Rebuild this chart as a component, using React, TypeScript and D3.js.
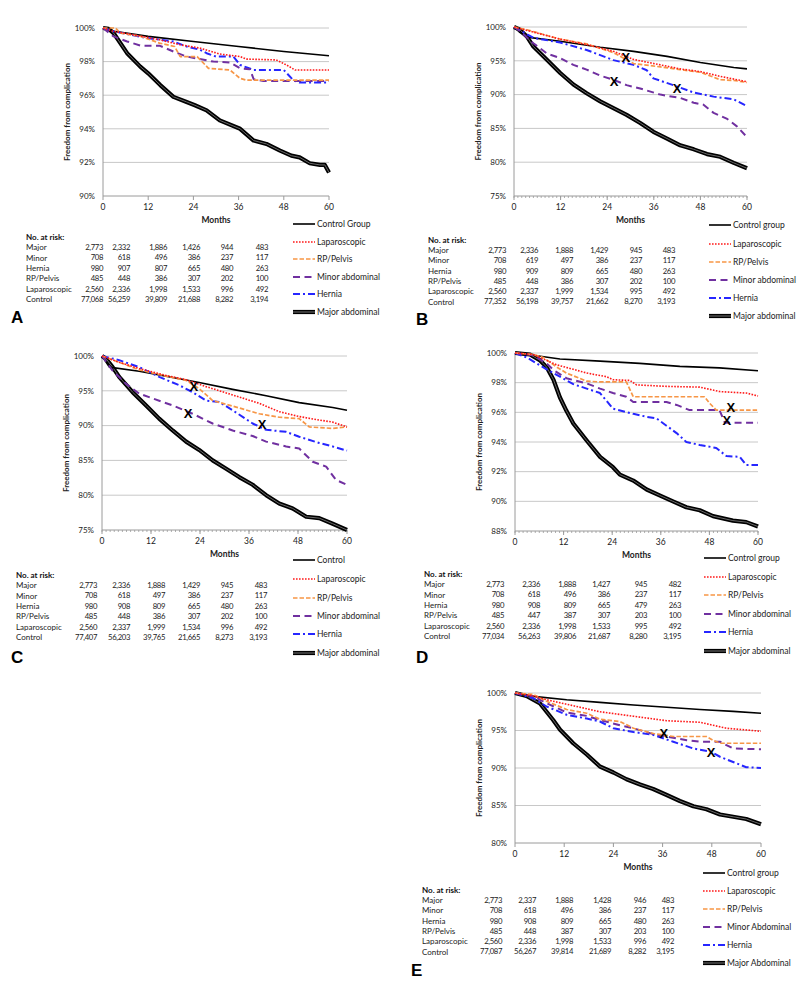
import React from "react";
import * as d3 from "d3";

// ---------- DATA ----------
const monthTicks = [0, 12, 24, 36, 48, 60];
const rowLabels = ["Major", "Minor", "Hernia", "RP/Pelvis", "Laparoscopic", "Control"];

// Panel A
const A_yTicks = [90, 92, 94, 96, 98, 100];
const A_control = [[0,100],[3,99.8],[12,99.5],[24,99.2],[36,98.9],[48,98.6],[60,98.35]];
const A_major = [[0,100],[1.5,99.95],[2.8,99.7],[6.4,98.5],[9.9,97.7],[12,97.3],[15.2,96.6],[18.7,95.9],[22.2,95.6],[24.4,95.4],[27.5,95.1],[31,94.5],[36.4,94.0],[40,93.3],[43.4,93.1],[47,92.7],[50,92.4],[52.2,92.3],[54.9,91.95],[57.6,91.85],[58.9,91.85],[60,91.4]];
const A_lap = [[0,100],[2.8,99.8],[8,99.6],[15,99.3],[20.5,99.0],[25.8,98.8],[31,98.45],[36.4,98.3],[38,98.15],[46,98.1],[48.7,97.8],[51,97.5],[60,97.5]];
const A_rp = [[0,100],[3.3,100],[4.6,99.7],[10,99.5],[15,99.1],[19,98.9],[20.5,98.3],[25,98.3],[28,97.6],[33.7,97.5],[36.4,97.0],[38,96.9],[60,96.9]];
const A_minor = [[0,100],[2.8,99.5],[6.4,99.2],[10,98.95],[15,98.95],[18.7,98.6],[22.2,98.3],[29.3,98.0],[33.7,97.95],[36.4,97.6],[39,97.55],[40,96.95],[42.6,96.85],[60,96.85]];
const A_hernia = [[0,100],[2.8,99.8],[11.6,99.4],[18.7,99.2],[22.2,98.9],[25.8,98.7],[27.5,98.5],[30,98.3],[34.6,98.3],[36.4,97.8],[40,97.5],[48,97.5],[50.5,96.9],[52.2,96.75],[60,96.75]];
const A_marks: number[][] = [];
const A_major_risk = ["2,773", "2,332", "1,886", "1,426", "944", "483"];
const A_minor_risk = ["708", "618", "496", "386", "237", "117"];
const A_hernia_risk = ["980", "907", "807", "665", "480", "263"];
const A_rp_risk = ["485", "448", "386", "307", "202", "100"];
const A_lap_risk = ["2,560", "2,336", "1,998", "1,533", "996", "492"];
const A_control_risk = ["77,068", "56,259", "39,809", "21,688", "8,282", "3,194"];
const A_legend = ["Control Group", "Laparoscopic", "RP/Pelvis", "Minor abdominal", "Hernia", "Major abdominal"];

// Panel B
const B_yTicks = [75, 80, 85, 90, 95, 100];
const B_control = [[0,100],[1.5,99.2],[3.3,98.5],[11.9,97.9],[22.2,97.0],[30.8,96.4],[39.4,95.65],[48,94.75],[56.6,94.0],[60,93.8]];
const B_major = [[0,100],[1.5,99.6],[3.3,98.6],[5,97.1],[8.4,95.2],[11.9,93.2],[15.3,91.5],[18.7,90.2],[22.2,89.0],[25.6,88.0],[29,87.0],[32.5,85.8],[35.9,84.5],[39.4,83.5],[42.8,82.5],[46.3,81.9],[49.7,81.2],[53.1,80.8],[56.6,79.9],[60,79.1]];
const B_lap = [[0,100],[3.3,99.5],[11.9,98.2],[18.7,97.4],[25.6,96.4],[30.8,95.2],[37.7,94.4],[42.8,93.8],[48,93.4],[53.1,92.7],[60,91.9]];
const B_rp = [[0,100],[3.3,99.6],[11.9,98.2],[18.7,97.5],[25.6,96.2],[30.8,94.6],[37.7,94.1],[42.8,93.7],[48,93.3],[53.1,92.2],[56.6,92.1],[60,91.8]];
const B_minor = [[0,100],[1.5,99.4],[5,97.6],[8.4,96.1],[11.9,95.4],[15.3,94.4],[18.7,93.7],[22.2,92.8],[25.6,92.2],[29,91.4],[32.5,90.9],[37.7,90.0],[42.8,89.5],[46.3,88.8],[48.8,88.5],[51.4,87.3],[54.9,86.4],[57.4,85.3],[60,83.7]];
const B_hernia = [[0,100],[1.5,99.5],[5,98.4],[11.9,97.7],[18.7,96.6],[25.6,95.1],[30.8,94.4],[34.2,93.6],[35.9,92.4],[41,91.4],[46.3,90.3],[51.4,89.7],[56.6,89.3],[60,88.3]];
const B_marks = [[28.8,95.5],[25.8,92.0],[42,91.0]];
const B_major_risk = ["2,773", "2,336", "1,888", "1,429", "945", "483"];
const B_minor_risk = ["708", "619", "497", "386", "237", "117"];
const B_hernia_risk = ["980", "909", "809", "665", "480", "263"];
const B_rp_risk = ["485", "448", "386", "307", "202", "100"];
const B_lap_risk = ["2,560", "2,337", "1,999", "1,534", "995", "492"];
const B_control_risk = ["77,352", "56,198", "39,757", "21,662", "8,270", "3,193"];
const B_legend = ["Control group", "Laparoscopic", "RP/Pelvis", "Minor abdominal", "Hernia", "Major abdominal"];

// Panel C
const C_yTicks = [75, 80, 85, 90, 95, 100];
const C_control = [[0,100],[1.8,98.4],[9.1,97.8],[15.7,97.1],[23.8,96.2],[32,95.2],[40.2,94.3],[48.3,93.3],[56.5,92.6],[60,92.2]];
const C_major = [[0,100],[1,99.6],[2.6,98.4],[4.2,97.0],[7.5,94.8],[10.8,92.9],[14,91.0],[17.3,89.3],[20.6,87.7],[23.8,86.5],[27.1,85.0],[30.4,83.8],[33.6,82.6],[36.9,81.5],[40.2,80.0],[43.4,78.8],[46.7,78.1],[50,76.9],[53.2,76.7],[56.5,75.9],[60,75.0]];
const C_lap = [[0,100],[4.2,99.1],[9.1,98.2],[15.7,97.2],[20.6,96.6],[25.5,95.6],[32,94.4],[38.5,93.2],[43.4,92.0],[48.3,91.3],[53.2,90.8],[56.5,90.5],[60,89.8]];
const C_rp = [[0,100],[4.2,99.1],[9.1,98.0],[15.7,97.1],[20.6,96.5],[23.8,95.3],[27.1,93.6],[32,92.8],[38.5,91.7],[43.4,91.2],[48.3,91.0],[50.8,89.8],[56.5,89.6],[60,89.8]];
const C_minor = [[0,100],[2.6,97.9],[5.9,96.0],[9.1,94.6],[12.4,93.9],[17.3,92.9],[22.2,91.7],[27.1,90.3],[32,89.3],[36.9,88.5],[40.2,87.7],[45.1,87.0],[48.3,86.7],[51.6,84.8],[54.9,84.1],[57.3,82.2],[60,81.5]];
const C_hernia = [[0,100],[4.2,99.4],[9.1,98.4],[14,97.0],[18.9,95.8],[22.2,94.8],[25.5,93.6],[28.7,93.4],[32,92.2],[36.9,90.3],[40.2,89.4],[45.1,89.1],[48.3,88.4],[53.2,87.5],[56.5,87.0],[60,86.4]];
const C_marks = [[22.5,95.7],[21.1,91.8],[39.2,90.2]];
const C_major_risk = ["2,773", "2,336", "1,888", "1,429", "945", "483"];
const C_minor_risk = ["708", "618", "497", "386", "237", "117"];
const C_hernia_risk = ["980", "908", "809", "665", "480", "263"];
const C_rp_risk = ["485", "448", "386", "307", "202", "100"];
const C_lap_risk = ["2,560", "2,337", "1,999", "1,534", "996", "492"];
const C_control_risk = ["77,407", "56,203", "39,765", "21,665", "8,273", "3,193"];
const C_legend = ["Control", "Laparoscopic", "RP/Pelvis", "Minor abdominal", "Hernia", "Major abdominal"];

// Panel D
const D_yTicks = [88, 90, 92, 94, 96, 98, 100];
const D_control = [[0,100],[4.5,99.85],[11.1,99.6],[21,99.45],[30.8,99.3],[40.7,99.1],[50.5,99.0],[60,98.8]];
const D_major = [[0,100],[3.7,99.9],[6.2,99.5],[7.8,99.05],[9.5,98.2],[11.1,97.0],[12.7,96.1],[14.4,95.25],[17.7,94.1],[21,93.0],[24.2,92.3],[25.9,91.8],[29.2,91.4],[32.5,90.8],[35.7,90.4],[39,90.0],[42.3,89.6],[45.6,89.4],[48.9,89.0],[53.8,88.7],[57.1,88.6],[60,88.3]];
const D_lap = [[0,100],[4.5,99.9],[7.8,99.5],[10.3,99.2],[14.4,98.9],[17.7,98.65],[22.6,98.4],[24.2,98.2],[28.4,98.15],[30,97.85],[37.4,97.75],[45.6,97.7],[48.9,97.5],[50.5,97.4],[57.1,97.3],[60,97.1]];
const D_rp = [[0,100],[4.5,99.9],[7,99.7],[10.3,99.05],[12.7,98.65],[17.7,98.1],[21,98.05],[27.5,98.05],[29.2,97.05],[46.8,97.05],[48.1,96.6],[49.7,96.15],[60,96.15]];
const D_minor = [[0,100],[4.5,99.85],[7.8,99.3],[9.5,98.85],[12.7,98.3],[17.7,97.95],[21,97.6],[24.2,97.3],[27.5,97.05],[29.2,96.7],[37.4,96.7],[39.9,96.5],[43.1,96.15],[50.5,96.15],[51.8,95.3],[60,95.3]];
const D_hernia = [[0,100],[2.9,99.7],[7.8,98.9],[11.1,98.4],[14.4,97.9],[17.7,97.6],[21,97.3],[24.2,96.25],[29.2,95.9],[32.5,95.7],[34.9,95.6],[37.4,95.1],[39.9,94.6],[42.3,94.0],[45.6,93.8],[49.7,93.6],[52.2,93.05],[55.5,93.0],[57.1,92.45],[60,92.45]];
const D_marks = [[53.3,96.36],[52.3,95.48]];
const D_major_risk = ["2,773", "2,336", "1,888", "1,427", "945", "482"];
const D_minor_risk = ["708", "618", "496", "386", "237", "117"];
const D_hernia_risk = ["980", "908", "809", "665", "479", "263"];
const D_rp_risk = ["485", "447", "387", "307", "203", "100"];
const D_lap_risk = ["2,560", "2,336", "1,998", "1,533", "995", "492"];
const D_control_risk = ["77,034", "56,263", "39,806", "21,687", "8,280", "3,195"];
const D_legend = ["Control group", "Laparoscopic", "RP/Pelvis", "Minor abdominal", "Hernia", "Major abdominal"];

// Panel E
const E_yTicks = [80, 85, 90, 95, 100];
const E_control = [[0,100],[4.5,99.55],[12.6,99.1],[20.7,98.75],[28.9,98.4],[37,98.1],[45.1,97.8],[53.2,97.55],[60,97.3]];
const E_major = [[0,100],[2.8,99.6],[6.1,98.6],[9.3,96.4],[11,95.1],[14.2,93.3],[17.5,91.8],[20.7,90.2],[24,89.4],[27.2,88.5],[30.5,87.8],[33.7,87.2],[37,86.4],[40.2,85.6],[43.5,84.9],[46.7,84.5],[50,83.8],[53.2,83.5],[56.4,83.2],[60,82.5]];
const E_lap = [[0,100],[4.5,99.6],[7.7,99.1],[12.6,98.5],[20.7,97.5],[28.9,96.9],[37,96.3],[45.1,96.1],[48.3,95.7],[51.6,95.3],[60,94.9]];
const E_rp = [[0,100],[4.5,99.8],[7.7,98.9],[12.6,97.8],[17.5,97.3],[20.7,96.5],[25.6,96.2],[28.9,95.3],[33.8,94.6],[38.6,94.2],[46.7,94.2],[48.3,93.7],[50,93.3],[60,93.3]];
const E_minor = [[0,100],[4.5,99.55],[7.7,98.65],[12.6,97.4],[17.5,96.95],[20.7,96.4],[25.6,95.7],[28.9,95.3],[33.8,94.5],[37,94.2],[41.9,93.7],[45.1,93.5],[50,93.5],[53.2,92.6],[60,92.5]];
const E_hernia = [[0,100],[4.5,99.3],[7.7,98.2],[12.6,97.1],[17.5,96.6],[20.7,96.2],[24,95.3],[28.9,94.8],[33.8,94.4],[38.6,93.5],[43.5,92.6],[47.6,92.2],[50,91.5],[53.2,90.8],[56.4,90.1],[60,90.0]];
const E_marks = [[36.3,94.67],[47.8,92.1]];
const E_major_risk = ["2,773", "2,337", "1,888", "1,428", "946", "483"];
const E_minor_risk = ["708", "618", "496", "386", "237", "117"];
const E_hernia_risk = ["980", "908", "809", "665", "480", "263"];
const E_rp_risk = ["485", "448", "387", "307", "203", "100"];
const E_lap_risk = ["2,560", "2,336", "1,998", "1,533", "996", "492"];
const E_control_risk = ["77,087", "56,267", "39,814", "21,689", "8,282", "3,195"];
const E_legend = ["Control group", "Laparoscopic", "RP/Pelvis", "Minor Abdominal", "Hernia", "Major Abdominal"];

// ---------- STYLE / LAYOUT ----------
const FONT = "Lato, 'Open Sans', sans-serif";
const STY: Record<string, any> = {
  control: { stroke: "#000", width: 1.6, dash: null },
  lap: { stroke: "#ff1a1a", width: 1.6, dash: "1.6,1.4" },
  rp: { stroke: "#f79646", width: 1.7, dash: "4.5,2" },
  minor: { stroke: "#7030a0", width: 2, dash: "7,4.5" },
  hernia: { stroke: "#2626ff", width: 2, dash: "7,3,2,3" },
};
const legendKeys = ["control", "lap", "rp", "minor", "hernia", "major"];

const panels = [
  { letter: "A", x0: 103, x1: 329, yTop: 28, yBot: 196, domain: [90, 100], yTicks: A_yTicks, minor: false,
    series: { control: A_control, major: A_major, hernia: A_hernia, minor: A_minor, rp: A_rp, lap: A_lap }, marks: A_marks,
    risk: [A_major_risk, A_minor_risk, A_hernia_risk, A_rp_risk, A_lap_risk, A_control_risk], legend: A_legend,
    legX: 293, legY: [224, 242, 259, 277, 294, 312], tabX: 26, tabY: 237, rowH: 10.4, cols: [103, 130, 167, 200, 233, 268],
    letterX: 11, letterY: 323 },
  { letter: "B", x0: 514, x1: 747, yTop: 27, yBot: 196, domain: [75, 100], yTicks: B_yTicks, minor: true,
    series: { control: B_control, major: B_major, hernia: B_hernia, minor: B_minor, rp: B_rp, lap: B_lap }, marks: B_marks,
    risk: [B_major_risk, B_minor_risk, B_hernia_risk, B_rp_risk, B_lap_risk, B_control_risk], legend: B_legend,
    legX: 709, legY: [225, 244, 262, 280, 298, 316], tabX: 428, tabY: 240, rowH: 10.3, cols: [506, 538, 573, 608, 642, 675],
    letterX: 416, letterY: 325 },
  { letter: "C", x0: 102, x1: 347, yTop: 356, yBot: 530, domain: [75, 100], yTicks: C_yTicks, minor: true,
    series: { control: C_control, major: C_major, hernia: C_hernia, minor: C_minor, rp: C_rp, lap: C_lap }, marks: C_marks,
    risk: [C_major_risk, C_minor_risk, C_hernia_risk, C_rp_risk, C_lap_risk, C_control_risk], legend: C_legend,
    legX: 293, legY: [560, 579, 598, 616, 634, 653], tabX: 16, tabY: 575, rowH: 10.4, cols: [97, 130, 165, 200, 233, 267],
    letterX: 11, letterY: 663 },
  { letter: "D", x0: 515, x1: 758, yTop: 353, yBot: 531, domain: [88, 100], yTicks: D_yTicks, minor: true,
    series: { control: D_control, major: D_major, hernia: D_hernia, minor: D_minor, rp: D_rp, lap: D_lap }, marks: D_marks,
    risk: [D_major_risk, D_minor_risk, D_hernia_risk, D_rp_risk, D_lap_risk, D_control_risk], legend: D_legend,
    legX: 704, legY: [558, 577, 595, 614, 632, 651], tabX: 424, tabY: 574, rowH: 10.4, cols: [504, 540, 576, 610, 647, 681],
    letterX: 416, letterY: 663 },
  { letter: "E", x0: 515, x1: 761, yTop: 693, yBot: 843, domain: [80, 100], yTicks: E_yTicks, minor: false,
    series: { control: E_control, major: E_major, hernia: E_hernia, minor: E_minor, rp: E_rp, lap: E_lap }, marks: E_marks,
    risk: [E_major_risk, E_minor_risk, E_hernia_risk, E_rp_risk, E_lap_risk, E_control_risk], legend: E_legend,
    legX: 703, legY: [873, 891, 909, 927, 945, 963], tabX: 422, tabY: 890, rowH: 10.3, cols: [502, 536, 573, 611, 646, 674],
    letterX: 411, letterY: 976 },
];

function LegendLine({ k, x, y }: { k: string; x: number; y: number }) {
  const w = 22;
  if (k === "major") {
    return (
      <g>
        <line x1={x} x2={x + w} y1={y} y2={y} stroke="#000" strokeWidth={4.2} />
        <line x1={x} x2={x + w} y1={y} y2={y} stroke="#777" strokeWidth={1} />
      </g>
    );
  }
  const s = STY[k];
  return <line x1={x} x2={x + w} y1={y} y2={y} stroke={s.stroke} strokeWidth={s.width} strokeDasharray={s.dash || undefined} />;
}

function Panel({ p }: { p: any }) {
  const x = d3.scaleLinear().domain([0, 60]).range([p.x0, p.x1]);
  const y = d3.scaleLinear().domain(p.domain).range([p.yBot, p.yTop]);
  const line = d3.line<number[]>().x((d) => x(d[0])).y((d) => y(d[1])).curve(d3.curveLinear);
  const order = ["control", "hernia", "minor", "rp", "lap"];
  const minorTicks = d3.range(0, 61, 1);
  const midY = (p.yTop + p.yBot) / 2;
  return (
    <g fontFamily={FONT}>
      {p.yTicks.map((t: number) => (
        <g key={t}>
          {t !== p.domain[0] && <line x1={p.x0} x2={p.x1} y1={y(t)} y2={y(t)} stroke="#c8c8c8" strokeWidth={1} />}
          <text x={p.x0 - 8} y={y(t)} dy="0.35em" textAnchor="end" fontSize={8} fill="#222">{t}%</text>
        </g>
      ))}
      <line x1={p.x0} x2={p.x0} y1={p.yTop} y2={p.yBot} stroke="#9a9a9a" strokeWidth={1} />
      <line x1={p.x0} x2={p.x1} y1={p.yBot} y2={p.yBot} stroke="#9a9a9a" strokeWidth={1} />
      {p.minor && minorTicks.map((m: number) => (
        <line key={"m" + m} x1={x(m)} x2={x(m)} y1={p.yBot} y2={p.yBot + 2} stroke="#9a9a9a" strokeWidth={0.8} />
      ))}
      {monthTicks.map((m) => (
        <g key={"t" + m}>
          <line x1={x(m)} x2={x(m)} y1={p.yBot} y2={p.yBot + 4} stroke="#9a9a9a" strokeWidth={1} />
          <text x={x(m)} y={p.yBot + 14} textAnchor="middle" fontSize={8.5} fill="#222">{m}</text>
        </g>
      ))}
      <text x={(p.x0 + p.x1) / 2} y={p.yBot + 27} textAnchor="middle" fontSize={8.5} fontWeight="bold" fill="#222">Months</text>
      <text transform={`translate(${p.x0 - 33},${midY}) rotate(-90)`} textAnchor="middle" fontSize={8} fontWeight="bold" fill="#222">Freedom from complication</text>
      {/* major abdominal double line */}
      <path d={line(p.series.major) || ""} fill="none" stroke="#000" strokeWidth={4.2} strokeLinejoin="round" />
      <path d={line(p.series.major) || ""} fill="none" stroke="#6a6a6a" strokeWidth={1} strokeLinejoin="round" />
      {order.map((k) => {
        const s = STY[k];
        return (
          <path key={k} d={line(p.series[k]) || ""} fill="none" stroke={s.stroke} strokeWidth={s.width}
            strokeDasharray={s.dash || undefined} strokeLinejoin="round" />
        );
      })}
      {p.marks.map((m: number[], i: number) => (
        <text key={"x" + i} x={x(m[0])} y={y(m[1])} dy="0.36em" textAnchor="middle" fontSize={13} fontWeight="bold" fill="#000"
          fontFamily="'Liberation Sans', Arial, sans-serif">X</text>
      ))}
      {legendKeys.map((k, i) => (
        <g key={"lg" + k}>
          <LegendLine k={k} x={p.legX} y={p.legY[i]} />
          <text x={p.legX + 24} y={p.legY[i]} dy="0.35em" fontSize={8.5} fill="#222">{p.legend[i]}</text>
        </g>
      ))}
      <text x={p.tabX} y={p.tabY} dy="0.35em" fontSize={8} fontWeight="bold" fill="#111">No. at risk:</text>
      {rowLabels.map((r, i) => (
        <g key={"r" + r}>
          <text x={p.tabX} y={p.tabY + p.rowH * (i + 1)} dy="0.35em" fontSize={8} fill="#222">{r}</text>
          {p.risk[i].map((v: string, j: number) => (
            <text key={j} x={p.cols[j]} y={p.tabY + p.rowH * (i + 1)} dy="0.35em" textAnchor="end" fontSize={7.7}
              letterSpacing={-0.35} fill="#222">{v}</text>
          ))}
        </g>
      ))}
      <text x={p.letterX} y={p.letterY} fontSize={17} fontWeight="bold" fill="#000" fontFamily="'Liberation Sans', Arial, sans-serif">{p.letter}</text>
    </g>
  );
}

export default function App() {
  return (
    <svg width={800} height={997} style={{ position: "absolute", left: 0, top: 0, background: "#fff" }}>
      <rect width={800} height={997} fill="#fff" />
      {panels.map((p) => <Panel key={p.letter} p={p} />)}
    </svg>
  );
}
